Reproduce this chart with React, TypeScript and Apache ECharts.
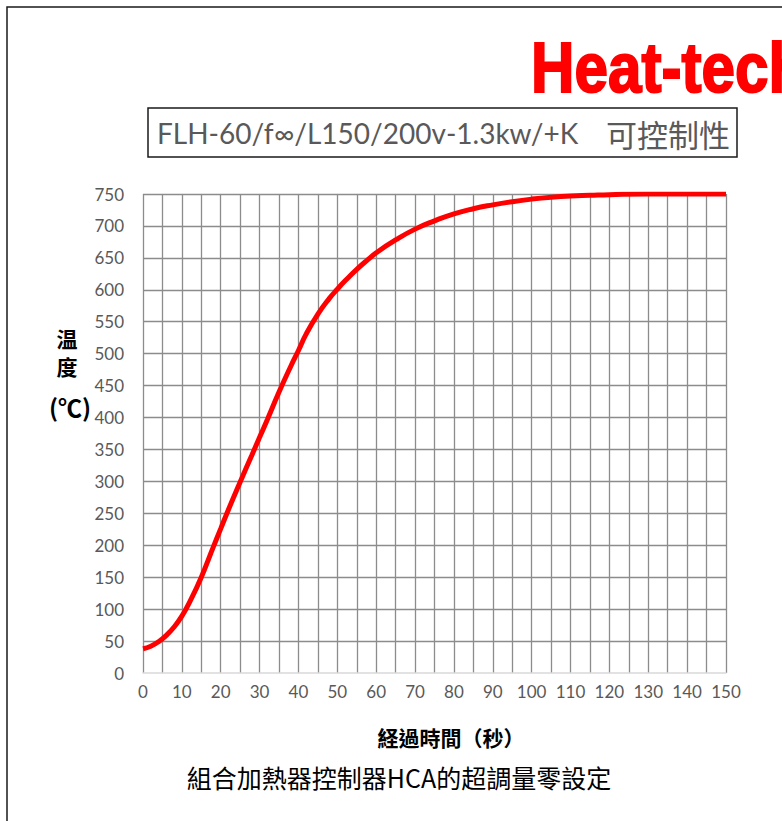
import React, { useEffect, useRef } from "react";
import * as echarts from "echarts";

const timeSec = [0, 2, 4, 6, 8, 10, 12, 15, 18, 20, 22, 25, 28, 30, 32, 35, 38, 40, 42, 45, 48, 50, 52, 55, 58, 60, 65, 70, 75, 80, 85, 90, 95, 100, 105, 110, 115, 120, 130, 140, 150];
const tempC = [38, 42, 49, 59, 72, 89, 111, 150, 196, 226, 256, 299, 341, 369, 397, 440, 480, 505, 531, 562, 587, 601, 614, 632, 648, 658, 678, 695, 708, 719, 727, 733, 738, 742, 745, 747, 748, 749, 750, 750, 750];

const titleLatin = "FLH-60/f∞/L150/200v-1.3kw/+K";
const titleCJK = "可控制性";
const brandText = "Heat-tech";
const yNameLines = ["温", "度", "(℃)"];
const xName = "経過時間（秒）";
const subTitle = "組合加熱器控制器HCA的超調量零設定";

const LABEL_FONT = "Lato, 'Noto Sans', sans-serif";
const CJK_FONT = "'Noto Sans CJK TC', 'Noto Sans CJK SC', sans-serif";

export default function App() {
  const ref = useRef<HTMLDivElement>(null);
  useEffect(() => {
    if (!ref.current) return;
    const chart = echarts.init(ref.current, undefined, { renderer: "svg" });
    const data = timeSec.map((t, i) => [t, tempC[i]]);
    chart.setOption({
      animation: false,
      backgroundColor: "#ffffff",
      grid: { left: 143, top: 194, width: 583, height: 479, containLabel: false },
      xAxis: {
        type: "value",
        min: 0,
        max: 150,
        interval: 5,
        axisLine: { show: true, lineStyle: { color: "#d9d9d9", width: 1.5 } },
        axisTick: { show: false },
        axisLabel: {
          color: "#595959",
          fontFamily: LABEL_FONT,
          fontSize: 17,
          margin: 10,
          formatter: (v: number) => (v % 10 === 0 ? String(v) : ""),
        },
        splitLine: { show: true, lineStyle: { color: "#8c8c8c", width: 1.3 } },
      },
      yAxis: {
        type: "value",
        min: 0,
        max: 750,
        interval: 50,
        axisLine: { show: false },
        axisTick: { show: false },
        axisLabel: { color: "#595959", fontFamily: LABEL_FONT, fontSize: 17, margin: 19 },
        splitLine: { show: true, showMinLine: false, lineStyle: { color: "#8c8c8c", width: 1.3 } },
      },
      series: [
        {
          type: "line",
          data,
          smooth: 0.5,
          showSymbol: false,
          lineStyle: { color: "#ff0000", width: 5 },
          z: 5,
        },
      ],
      graphic: [
        {
          type: "rect",
          shape: { x: 7, y: 7, width: 820, height: 840 },
          style: { fill: "none", stroke: "#1a1a1a", lineWidth: 1.5 },
          silent: true,
        },
        {
          type: "text",
          x: 531,
          y: 33,
          scaleX: 0.86,
          style: {
            text: brandText,
            fill: "#ff0000",
            stroke: "#ff0000",
            lineWidth: 2,
            font: "bold 70px 'Liberation Sans', Arial, sans-serif",
            textVerticalAlign: "top",
          },
        },
        {
          type: "rect",
          shape: { x: 148, y: 108, width: 589, height: 49 },
          style: { fill: "#ffffff", stroke: "#1a1a1a", lineWidth: 1.5 },
        },
        {
          type: "text",
          x: 157,
          y: 133,
          style: {
            text: titleLatin,
            fill: "#595959",
            font: "28px " + LABEL_FONT,
            textAlign: "left",
            textVerticalAlign: "middle",
          },
        },
        {
          type: "text",
          x: 730,
          y: 133,
          style: {
            text: titleCJK,
            fill: "#595959",
            font: "31px " + CJK_FONT,
            textAlign: "right",
            textVerticalAlign: "middle",
          },
        },
        {
          type: "text",
          x: 67,
          y: 338,
          style: { text: yNameLines[0], fill: "#000000", font: "bold 21px " + CJK_FONT, textAlign: "center", textVerticalAlign: "middle" },
        },
        {
          type: "text",
          x: 67,
          y: 366,
          style: { text: yNameLines[1], fill: "#000000", font: "bold 21px " + CJK_FONT, textAlign: "center", textVerticalAlign: "middle" },
        },
        {
          type: "text",
          x: 70,
          y: 406,
          style: { text: yNameLines[2], fill: "#000000", font: "bold 24px " + CJK_FONT, textAlign: "center", textVerticalAlign: "middle" },
        },
        {
          type: "text",
          x: 451,
          y: 737,
          style: { text: xName, fill: "#000000", font: "bold 21px " + CJK_FONT, textAlign: "center", textVerticalAlign: "middle" },
        },
        {
          type: "text",
          x: 399,
          y: 777,
          style: { text: subTitle, fill: "#000000", font: "25px " + CJK_FONT, textAlign: "center", textVerticalAlign: "middle" },
        },
      ],
    });
    return () => chart.dispose();
  }, []);
  return (
    <div
      ref={ref}
      style={{ position: "absolute", left: 0, top: 0, width: 782, height: 821, overflow: "hidden" }}
    />
  );
}
